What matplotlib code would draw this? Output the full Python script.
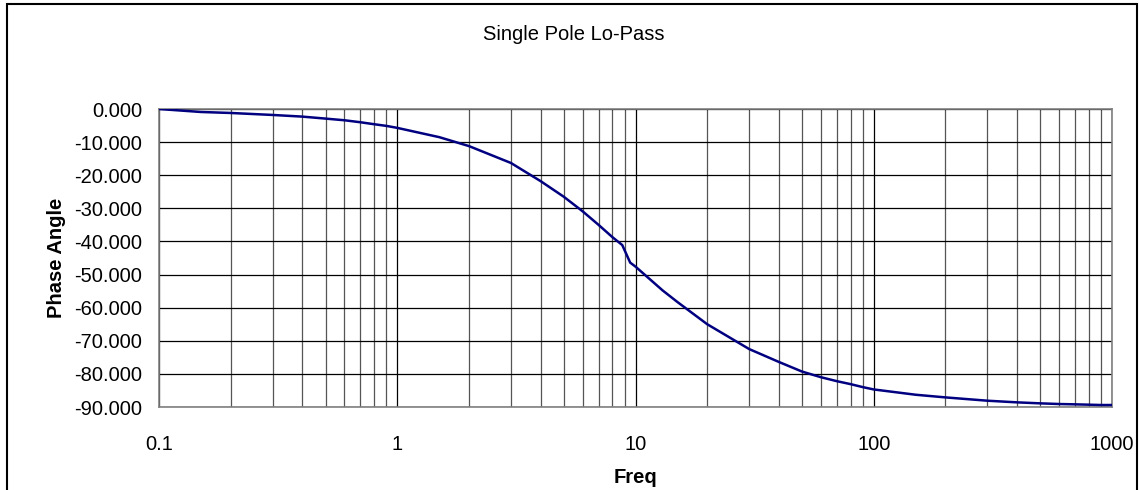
import matplotlib
matplotlib.use("Agg")
import matplotlib.pyplot as plt
from matplotlib.patches import Rectangle
from matplotlib.ticker import FixedLocator, NullFormatter

plt.rcParams['font.family'] = ['Liberation Sans', 'DejaVu Sans']

# Valeurs
freq = [0.1, 0.15, 0.2, 0.3, 0.4, 0.5, 0.6, 0.7, 0.8, 0.9, 1, 1.5, 2, 3, 4, 5, 6, 7, 8,
        8.8, 9.5, 10, 13, 15, 20, 30, 40, 50, 60, 70, 80, 90, 100, 150, 200, 300, 400,
        500, 600, 700, 800, 900, 1000]
phase = [0.0, -0.9, -1.2, -1.8, -2.3, -2.9, -3.4, -4.0, -4.6, -5.1, -5.7, -8.5, -11.2,
         -16.3, -21.8, -26.5, -30.9, -35.0, -38.7, -41.1, -46.4, -47.6, -54.8, -58.3,
         -65.0, -72.5, -76.4, -79.3, -81.0, -82.2, -83.1, -84.0, -84.7, -86.3, -87.1,
         -88.1, -88.6, -88.9, -89.1, -89.2, -89.3, -89.4, -89.4]

xticks = [0.1, 1, 10, 100, 1000]
xticklabels = ["0.1", "1", "10", "100", "1000"]
yticks = list(range(-90, 1, 10))

fig = plt.figure(figsize=(11.39, 4.9), dpi=100)
ax = fig.add_axes([159 / 1139, 1 - 407 / 490, (1112 - 159) / 1139, 298 / 490])

# cadre extérieur
fig.patches.append(Rectangle((7 / 1139, -0.1), 1130 / 1139, 1.1 - 4 / 490,
                             transform=fig.transFigure, fill=False,
                             edgecolor="black", linewidth=1.5))

ax.plot(freq, phase, color="#000080", linewidth=1.8, zorder=3)

ax.set_xscale("log")
ax.set_xlim(0.1, 1000)
ax.set_ylim(-90, 0)
ax.set_xticks(xticks)
ax.set_xticklabels(xticklabels)
minors = [m * 10.0 ** e for e in range(-1, 3) for m in range(2, 10)]
ax.xaxis.set_minor_locator(FixedLocator(minors))
ax.xaxis.set_minor_formatter(NullFormatter())
ax.set_yticks(yticks)
ax.set_yticklabels(["%.3f" % v for v in yticks])

ax.grid(True, which="major", axis="both", color="black", linewidth=0.9)
ax.grid(True, which="minor", axis="x", color="#555555", linewidth=0.9)
ax.set_axisbelow(True)

for s in ax.spines.values():
    s.set_color("#808080")
    s.set_linewidth(1.2)

ax.tick_params(axis="both", which="both", length=0, labelsize=14.5)
ax.tick_params(axis="x", pad=20)
ax.tick_params(axis="y", pad=12)

ax.set_xlabel("Freq", fontsize=14.5, fontweight="bold", labelpad=10)
ax.set_ylabel("Phase Angle", fontsize=14.5, fontweight="bold", labelpad=6)
fig.text(574 / 1139, 1 - 34 / 490, "Single Pole Lo-Pass", fontsize=14.5,
         ha="center", va="center")

fig.savefig("out.png", dpi=100)
